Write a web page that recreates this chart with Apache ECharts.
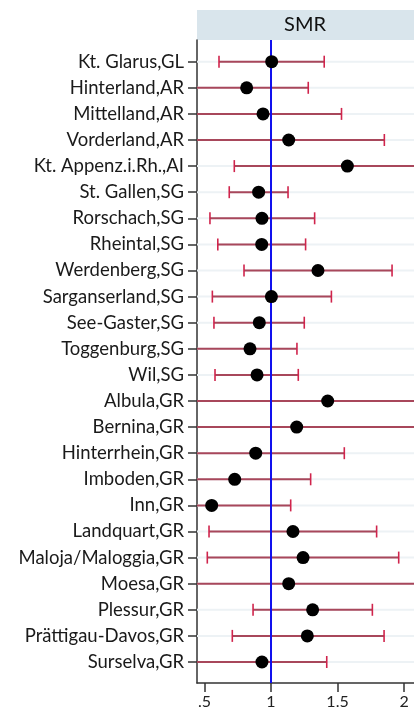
<!DOCTYPE html>
<html><head><meta charset="utf-8">
<script src="https://cdn.jsdelivr.net/npm/echarts@6/dist/echarts.min.js"></script>
<style>html,body{margin:0;padding:0;background:#fff}#c{width:414px;height:720px}</style>
</head><body><div id="c"></div>
<script>
const categories = ["Kt. Glarus,GL","Hinterland,AR","Mittelland,AR","Vorderland,AR","Kt. Appenz.i.Rh.,AI","St. Gallen,SG","Rorschach,SG","Rheintal,SG","Werdenberg,SG","Sarganserland,SG","See-Gaster,SG","Toggenburg,SG","Wil,SG","Albula,GR","Bernina,GR","Hinterrhein,GR","Imboden,GR","Inn,GR","Landquart,GR","Maloja/Maloggia,GR","Moesa,GR","Plessur,GR","Prättigau-Davos,GR","Surselva,GR"];
const smr   = [1.005,0.817,0.94,1.133,1.574,0.907,0.932,0.93,1.353,1.003,0.912,0.842,0.895,1.426,1.193,0.885,0.727,0.554,1.165,1.241,1.133,1.313,1.273,0.932];
const lower = [0.609,0.40,0.42,0.42,0.724,0.686,0.541,0.60,0.797,0.559,0.571,0.43,0.579,0.38,0.36,0.40,0.41,0.27,0.534,0.521,0.40,0.865,0.709,0.41];
const upper = [1.40,1.28,1.53,1.852,2.60,1.128,1.328,1.26,1.91,1.454,1.25,1.195,1.205,2.60,2.55,1.551,1.298,1.148,1.794,1.96,2.40,1.762,1.85,1.419];
const xTicks = [0.5,1,1.5,2];
const xTickLabels = [".5","1","1.5","2"];
const refValue = [1];
const headerTitle = "SMR";

const X_MIN = 0.4436, X_MAX = 2.075;
const rows = categories.map((c,i)=>i+1);

const chart = echarts.init(document.getElementById('c'), null, {renderer:'canvas'});
const barData = categories.map((c,i)=>[i+1, lower[i], upper[i]]);
const ptData = categories.map((c,i)=>[smr[i], i+1]);

chart.setOption({
  animation:false,
  textStyle:{fontFamily:'Lato'},
  graphic:[
    {type:'group', left:197, top:10, children:[
      {type:'rect', shape:{x:0, y:0, width:217, height:30}, style:{fill:'#d9e5ec'}},
      {type:'text', x:108, y:15, style:{text:headerTitle, fontSize:20, fontFamily:'Lato', fill:'#111', align:'center', verticalAlign:'middle'}}
    ]}
  ],
  grid:{left:197, right:0, top:40, bottom:37, containLabel:false},
  xAxis:{type:'value', min:X_MIN, max:X_MAX,
    axisLine:{show:true, onZero:false, lineStyle:{color:'#333', width:1.5}},
    axisTick:{show:true, length:9, lineStyle:{color:'#333', width:1.5}, customValues:xTicks},
    axisLabel:{customValues:xTicks, fontSize:16, color:'#222', margin:19, fontFamily:'Lato', verticalAlign:'middle',
      formatter:(v)=>{const k=xTicks.findIndex(t=>Math.abs(t-v)<1e-6);return k>=0?xTickLabels[k]:'';}},
    splitLine:{show:false}},
  yAxis:{type:'value', inverse:true, min:0.1686, max:24.805,
    axisLine:{show:true, lineStyle:{color:'#333', width:1.5}},
    axisTick:{show:true, length:9, lineStyle:{color:'#333', width:1.5}, customValues:rows},
    axisLabel:{customValues:rows, fontSize:18.5, color:'#1a1a1a', margin:13, fontFamily:'Lato',
      formatter:(v)=>{const k=Math.round(v)-1;return categories[k]||'';}},
    splitLine:{show:false}},
  series:[
    {type:'custom', z:2, clip:true, data:barData,
     renderItem:(params, api)=>{
       const cs = params.coordSys;
       const row = api.value(0), lo = api.value(1), hi = api.value(2);
       const y = api.coord([X_MIN,row])[1];
       const x1 = api.coord([Math.max(lo,X_MIN),row])[0];
       const x2 = api.coord([Math.min(hi,X_MAX),row])[0];
       const kids = [
         {type:'line', shape:{x1:cs.x, y1:y, x2:cs.x+cs.width, y2:y}, style:{stroke:'#edf2f5', lineWidth:2}},
         {type:'line', shape:{x1:x1, y1:y, x2:x2, y2:y}, style:{stroke:'#a8475b', lineWidth:2}}
       ];
       if (lo >= X_MIN) kids.push({type:'line', shape:{x1:x1,y1:y-6,x2:x1,y2:y+6}, style:{stroke:'#d0244c', lineWidth:1.6}});
       if (hi <= X_MAX) kids.push({type:'line', shape:{x1:x2,y1:y-6,x2:x2,y2:y+6}, style:{stroke:'#d0244c', lineWidth:1.6}});
       return {type:'group', children:kids};
     }},
    {type:'custom', z:3, data:refValue.map(v=>[v]),
     renderItem:(params, api)=>{
       const cs = params.coordSys;
       const x = api.coord([api.value(0), 1])[0];
       return {type:'line', shape:{x1:x, y1:cs.y, x2:x, y2:cs.y+cs.height}, style:{stroke:'#1010ee', lineWidth:2}};
     }},
    {type:'scatter', z:4, data:ptData, symbol:'circle', symbolSize:13, itemStyle:{color:'#000', opacity:1}}
  ]
});
</script></body></html>
